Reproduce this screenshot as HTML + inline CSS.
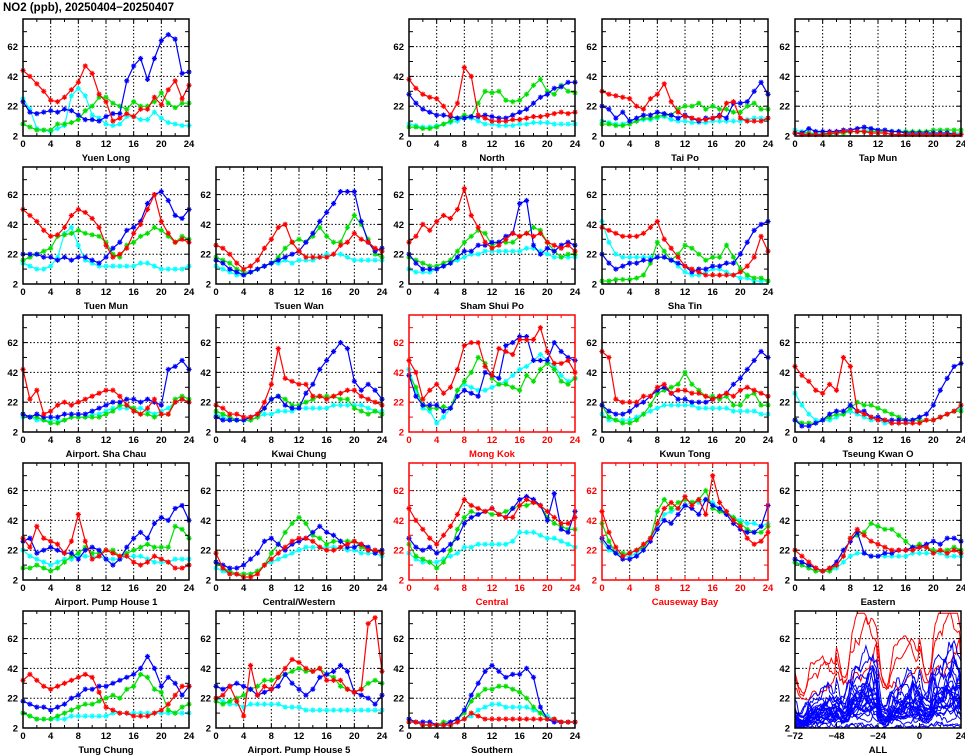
<!DOCTYPE html>
<html><head><meta charset="utf-8"><style>
html,body{margin:0;padding:0;background:#fff;}
svg{display:block;font-family:"Liberation Sans",sans-serif;}
</style></head><body>
<svg id="s" width="965" height="755" xmlns="http://www.w3.org/2000/svg">
<text x="3" y="11" font-size="11.5" font-weight="bold" fill="#000">NO2 (ppb), 20250404−20250407</text>
</svg>
<script>
const P=[
["Yuen Long",0,0,0,[
[46,42,37,32,26,25,28,33,38,49,44,30,25,12,14,17,15,20,20,28,23,33,39,27,36],
[10,8,6,6,6,10,10,11,13,19,22,28,28,24,22,20,25,22,22,25,31,24,21,24,24],
[25,18,17,18,19,18,20,19,16,13,13,12,15,17,17,39,49,54,40,54,66,70,67,44,45],
[27,20,7,6,5,7,9,29,34,29,16,14,10,9,10,15,15,13,13,18,14,11,10,9,9]]],
["North",0,2,0,[
[40,34,30,28,27,22,16,24,48,42,16,14,12,12,12,13,13,14,15,15,16,17,18,17,18],
[8,8,7,7,8,10,12,14,16,15,24,32,31,32,26,25,26,30,36,40,32,30,36,32,31],
[30,24,20,18,16,16,15,14,14,15,15,16,15,14,14,16,18,20,24,28,30,34,35,38,38],
[10,9,8,8,9,10,11,12,14,14,12,10,10,9,9,9,10,10,11,11,11,10,10,10,10]]],
["Tai Po",0,3,0,[
[32,30,29,28,27,22,20,27,30,37,25,18,15,14,13,13,14,15,24,25,14,12,12,12,14],
[10,10,9,9,10,12,14,14,15,16,16,20,22,22,24,20,22,20,20,18,18,22,24,20,20],
[22,20,14,18,12,14,16,16,18,17,16,14,16,14,12,14,14,16,14,24,24,25,32,38,30],
[12,11,10,10,12,12,13,13,14,15,13,12,12,11,11,11,12,12,12,12,12,13,14,14,14]]],
["Tap Mun",0,4,0,[
[4,3,3,3,3,4,4,5,5,5,5,4,4,4,3,3,3,3,3,3,3,3,3,3,3],
[4,4,4,3,3,3,4,4,5,5,5,5,5,5,5,5,5,5,5,5,6,6,6,6,6],
[4,4,7,5,5,5,5,6,6,7,8,7,6,6,5,5,4,4,4,4,4,4,4,3,3],
[6,5,4,4,4,4,4,5,5,5,6,6,6,5,5,5,5,4,4,4,4,4,4,4,4]]],
["Tuen Mun",1,0,0,[
[52,48,44,38,34,35,40,48,52,50,46,40,28,20,22,26,36,42,52,62,44,36,30,32,30],
[18,20,22,24,26,34,35,36,38,36,35,34,30,22,20,28,30,34,36,40,38,34,30,34,32],
[22,22,22,20,20,18,20,18,20,20,18,16,20,26,30,38,40,44,56,62,64,58,48,46,52],
[16,14,12,12,14,20,36,40,28,18,16,14,14,14,14,14,14,16,16,14,12,12,12,12,14]]],
["Tsuen Wan",1,1,0,[
[28,26,22,16,12,14,18,26,32,40,42,30,24,20,20,20,20,22,28,30,36,32,30,26,24],
[20,18,16,12,10,10,12,14,16,20,26,30,32,30,34,40,34,30,30,40,48,42,32,22,20],
[18,16,12,10,8,10,12,14,16,18,20,22,24,30,36,44,50,56,64,64,64,44,30,24,26],
[14,12,10,8,8,10,12,14,16,16,18,16,18,18,18,20,22,22,22,20,18,18,18,18,18]]],
["Sham Shui Po",1,2,0,[
[30,34,42,38,44,48,46,52,66,48,40,30,26,28,32,36,34,36,34,36,30,28,26,28,24],
[20,18,16,14,14,16,18,24,30,34,38,36,28,30,30,30,34,36,40,38,30,24,20,22,22],
[22,16,12,12,12,14,16,20,24,24,28,28,30,30,34,36,56,58,28,22,26,24,28,30,28],
[12,10,10,10,12,14,16,18,20,22,22,24,24,24,24,24,24,26,26,24,22,20,20,20,20]]],
["Sha Tin",1,3,0,[
[40,38,36,34,34,34,36,40,44,32,26,20,14,12,10,8,8,8,8,8,10,14,20,34,24],
[4,4,5,5,5,6,8,16,30,24,18,22,28,26,22,18,20,20,28,20,12,8,6,6,4],
[22,16,12,14,16,16,18,18,20,20,18,16,14,10,12,12,14,14,16,16,22,30,38,42,44],
[44,30,22,20,20,20,20,20,20,20,18,14,10,8,8,10,12,12,10,8,6,6,4,4,4]]],
["Airport. Sha Chau",2,0,0,[
[44,24,30,14,16,20,22,20,22,24,26,28,30,30,26,20,16,14,18,24,14,14,22,24,22],
[14,12,12,10,8,8,10,12,12,12,12,12,14,16,20,20,18,14,14,12,14,14,24,26,24],
[14,12,14,12,12,12,14,14,14,14,16,18,20,22,22,24,24,22,24,22,20,44,46,50,44],
[12,12,10,10,10,10,10,12,12,12,14,14,16,18,18,18,18,18,16,14,16,18,22,24,22]]],
["Kwai Chung",2,1,0,[
[20,18,14,14,12,12,14,22,34,58,38,36,34,34,26,26,24,26,28,30,30,26,24,22,20],
[16,14,12,10,10,10,12,18,24,26,24,20,20,22,24,26,26,26,24,24,18,16,14,16,14],
[12,10,10,10,10,12,14,18,24,26,20,18,18,28,34,44,50,56,62,58,36,30,34,30,24],
[14,12,10,10,10,10,12,14,14,16,16,16,18,18,18,18,18,20,20,20,20,20,18,16,16]]],
["Mong Kok",2,2,1,[
[50,42,24,30,34,28,32,44,60,62,62,46,40,58,56,54,64,64,64,72,56,48,48,50,42],
[40,32,20,18,18,19,18,30,36,42,52,48,38,34,34,32,30,40,36,44,48,44,36,34,38],
[40,26,20,20,20,16,18,26,30,28,26,42,40,38,60,62,66,66,50,50,50,62,56,52,50],
[44,30,18,16,8,12,18,30,34,32,30,30,32,34,36,40,44,46,50,54,50,46,40,36,38]]],
["Kwun Tong",2,3,0,[
[56,52,24,22,22,22,26,26,32,34,28,30,30,28,28,26,24,26,28,26,30,32,30,28,26],
[20,12,10,8,8,10,14,20,28,30,32,34,42,34,30,26,26,24,26,20,20,26,28,20,20],
[20,16,14,14,16,20,22,26,30,32,28,24,24,22,22,22,24,26,28,34,38,44,50,56,52],
[14,10,10,10,10,12,14,16,18,20,20,20,20,20,18,18,18,18,18,16,16,16,16,14,14]]],
["Tseung Kwan O",2,4,0,[
[46,40,36,30,28,34,30,52,46,16,14,12,10,10,8,8,8,8,8,10,10,12,14,16,20],
[10,8,8,8,10,12,14,14,18,22,20,20,18,16,14,12,10,10,10,10,10,12,14,16,16],
[10,6,6,8,10,14,16,16,20,16,16,12,12,10,10,10,10,10,12,14,20,30,38,46,48],
[28,20,14,10,10,10,12,14,16,14,12,10,10,8,8,8,8,10,10,10,10,12,14,16,18]]],
["Airport. Pump House 1",3,0,0,[
[30,24,38,30,28,26,20,28,46,28,16,18,22,20,18,18,14,12,14,18,16,14,10,10,12],
[10,10,12,10,8,10,14,18,20,24,20,20,22,22,18,20,22,24,26,24,24,24,38,36,30],
[28,30,20,22,24,22,20,20,16,22,24,22,16,12,16,24,30,34,30,40,44,42,50,52,42],
[22,18,16,14,12,14,16,16,18,18,18,18,16,16,16,18,18,18,16,14,14,14,16,16,16]]],
["Central/Western",3,1,0,[
[20,10,6,6,4,4,6,12,16,20,24,28,30,30,28,24,22,22,24,26,28,26,22,22,20],
[14,10,8,6,6,6,8,12,20,26,34,40,44,40,32,30,26,28,28,28,28,24,22,22,20],
[14,12,10,10,12,16,20,28,30,26,22,26,28,30,34,38,34,32,28,24,24,26,24,20,22],
[10,8,6,6,6,6,8,12,14,16,18,20,22,24,24,24,24,24,24,22,22,20,20,20,18]]],
["Central",3,2,1,[
[50,42,36,30,26,32,38,46,56,52,50,48,50,46,44,44,52,56,54,52,48,44,40,40,44],
[26,18,16,14,10,14,22,36,44,48,46,48,46,46,48,50,52,52,54,52,44,40,38,36,36],
[30,24,22,24,20,22,26,30,40,44,46,48,50,46,44,50,56,58,56,52,42,60,36,34,48],
[20,16,14,14,14,16,18,20,24,24,26,26,26,26,26,28,34,34,34,32,30,30,28,26,24]]],
["Causeway Bay",3,3,1,[
[48,34,24,18,20,22,26,30,40,50,54,50,58,52,56,46,72,54,48,42,38,30,26,28,34],
[40,28,20,20,20,22,24,30,48,56,50,54,56,54,56,62,50,48,46,44,40,36,34,34,38],
[30,24,20,16,16,18,22,28,36,42,40,46,52,50,46,56,52,50,46,40,36,34,34,38,52],
[28,22,20,18,18,20,24,30,38,46,48,50,52,54,54,56,54,50,48,44,42,40,40,38,40]]],
["Eastern",3,4,0,[
[22,18,14,10,8,10,12,18,30,36,32,28,26,24,22,22,22,22,24,24,20,22,20,22,20],
[14,12,10,8,8,8,12,18,30,32,34,40,38,36,36,32,28,24,26,24,22,22,22,24,22],
[16,14,12,10,8,10,14,22,28,34,20,18,18,20,20,22,22,24,24,26,28,26,30,30,28],
[14,12,10,8,8,8,10,14,18,20,20,18,18,18,18,18,18,20,20,20,20,20,18,18,18]]],
["Tung Chung",4,0,0,[
[34,38,34,30,28,30,32,34,36,38,36,26,16,14,12,12,10,10,10,12,14,18,24,30,30],
[12,10,8,8,8,10,12,14,16,18,18,20,22,24,22,28,30,38,36,28,26,14,12,16,18],
[20,18,16,16,14,16,18,22,24,28,28,30,30,32,34,36,38,42,50,42,30,36,32,24,30],
[12,10,8,8,8,8,8,10,10,10,10,10,10,12,12,12,12,12,12,12,12,12,12,12,12]]],
["Airport. Pump House 5",4,1,0,[
[22,24,30,20,10,44,24,30,28,36,42,48,46,42,40,42,34,34,34,28,26,28,72,76,40],
[20,18,20,22,24,28,30,34,34,36,38,40,42,40,40,42,38,36,30,28,26,28,32,34,32],
[30,28,30,32,30,28,24,26,28,30,38,32,28,24,28,36,38,40,44,40,26,24,22,18,24],
[22,20,18,18,16,18,18,18,18,18,16,16,16,14,14,14,14,14,14,14,14,14,14,14,14]]],
["Southern",4,2,0,[
[6,6,4,4,4,4,4,6,8,12,10,8,8,8,8,8,8,8,8,8,8,8,6,6,6],
[6,6,4,4,4,6,6,8,12,20,24,28,28,30,30,28,26,22,16,12,8,8,6,6,6],
[8,6,6,6,4,4,6,8,14,24,32,40,44,40,36,38,38,42,36,16,8,6,6,6,6],
[6,6,4,4,4,4,4,6,8,10,14,16,18,18,16,16,16,16,14,12,10,8,6,6,6]]]
];
const COL=["#ff0000","#00e000","#0000ff","#00ffff"];
const LX=[23,216,409,602,795], TY=[19,167,315,463,611], W=166,H=117,YMAX=80.5;
let o="";
function frame(x0,y0,xmin,xmax,xt){
  const sx=v=>x0+(v-xmin)/(xmax-xmin)*W, sy=v=>y0+H-(v-2)/(YMAX-2)*H;
  let s="";
  for(let v=xmin+xt;v<xmax;v+=xt){const x=sx(v);s+=`<line x1="${x}" y1="${y0}" x2="${x}" y2="${y0+H}" stroke="#000" stroke-width="1" stroke-dasharray="1.5,2"/>`;}
  for(const v of [22,42,62]){const y=sy(v);s+=`<line x1="${x0}" y1="${y}" x2="${x0+W}" y2="${y}" stroke="#000" stroke-width="1" stroke-dasharray="1.5,2"/>`;}
  return [s,sx,sy];
}
function axes(x0,y0,xmin,xmax,xt,bc,lbl){
  const sx=v=>x0+(v-xmin)/(xmax-xmin)*W, sy=v=>y0+H-(v-2)/(YMAX-2)*H;
  let s=`<rect x="${x0}" y="${y0}" width="${W}" height="${H}" fill="none" stroke="${bc}" stroke-width="1.5"/>`;
  for(let v=xmin;v<=xmax;v+=xt/2){const x=sx(v);const L=((v-xmin)%xt==0)?4:3;
    s+=`<line x1="${x}" y1="${y0}" x2="${x}" y2="${y0+L}" stroke="${bc}"/><line x1="${x}" y1="${y0+H}" x2="${x}" y2="${y0+H-L}" stroke="${bc}"/>`;}
  for(let v=2;v<=72;v+=10){const y=sy(v);s+=`<line x1="${x0}" y1="${y}" x2="${x0+4}" y2="${y}" stroke="${bc}"/><line x1="${x0+W}" y1="${y}" x2="${x0+W-4}" y2="${y}" stroke="${bc}"/>`;}
  for(const v of [2,22,42,62])s+=`<text x="${x0-5}" y="${sy(v)+3.5}" font-size="9.5" font-weight="bold" text-anchor="end" fill="${bc}">${v}</text>`;
  for(let v=xmin;v<=xmax;v+=xt)s+=`<text x="${sx(v)}" y="${y0+H+11}" font-size="9.5" font-weight="bold" text-anchor="middle" fill="${bc}">${v==0?0:(v<0?"−"+(-v):v)}</text>`;
  s+=`<text x="${x0+W/2}" y="${y0+H+25}" font-size="9.5" font-weight="bold" text-anchor="middle" fill="${bc}">${lbl}</text>`;
  return s;
}
function star(x,y,c){const r=2.6;return `<path d="M${x-r} ${y}H${x+r}M${x} ${y-r}V${y+r}M${x-r*.7} ${y-r*.7}L${x+r*.7} ${y+r*.7}M${x-r*.7} ${y+r*.7}L${x+r*.7} ${y-r*.7}" stroke="${c}" stroke-width="1.1"/>`;}
for(const [name,r,c,red,d] of P){
  const x0=LX[c],y0=TY[r];const bc=red?"#ff0000":"#000";
  let [g,sx,sy]=frame(x0,y0,0,24,4);o+=g;
  for(const k of [3,1,2,0]){const a=d[k];
    o+=`<polyline fill="none" stroke="${COL[k]}" stroke-width="1.2" points="${a.map((v,i)=>sx(i).toFixed(1)+","+sy(v).toFixed(1)).join(" ")}"/>`;
    a.forEach((v,i)=>o+=star(sx(i),sy(v),COL[k]));}
  o+=axes(x0,y0,0,24,4,bc,name);
}
// ALL panel
{const x0=795,y0=611;let [g,sx,sy]=frame(x0,y0,-72,24,24);o+=`<clipPath id="cp"><rect x="${x0}" y="${y0}" width="${W}" height="${H}"/></clipPath>`;o+=g;
 let seed=7;const rnd=()=>{seed=(seed*16807)%2147483647;return seed/2147483647;};
 let lines="";
 const dayf=[0.55,1.0,0.75,1.1,1.0];
 const mk=(k,isRed)=>{const base=P[k%P.length][4];let pts=[];const sc=0.5+0.7*rnd();let prev=null;
   for(let h=-72;h<=24;h++){let hr=((h%24)+24)%24;let s=(base[2][hr]+base[1][hr]+base[3][hr])/3;
     let day=Math.floor((h+72)/24);
     let v=s*dayf[day]*sc*(0.85+0.3*rnd())+(rnd()-0.5)*5;
     if(isRed)v=s*dayf[day]*1.3+12+(rnd()-0.5)*8;
     if(prev!==null)v=0.6*v+0.4*prev;prev=v;
     v=Math.max(2,Math.min(79,v));
     pts.push(sx(h).toFixed(1)+","+sy(v).toFixed(1));}
   return `<polyline fill="none" stroke="${isRed?"#ff0000":"#0000ff"}" stroke-width="1" points="${pts.join(" ")}"/>`;};
 for(let k=0;k<3;k++)lines+=mk(10+k*3,true);
 for(let k=0;k<26;k++)lines+=mk(k,false);
 o+=`<g clip-path="url(#cp)">${lines}</g>`;
 o+=axes(x0,y0,-72,24,24,"#000","ALL");}
document.getElementById("s").insertAdjacentHTML("beforeend",o);
</script>
</body></html>
